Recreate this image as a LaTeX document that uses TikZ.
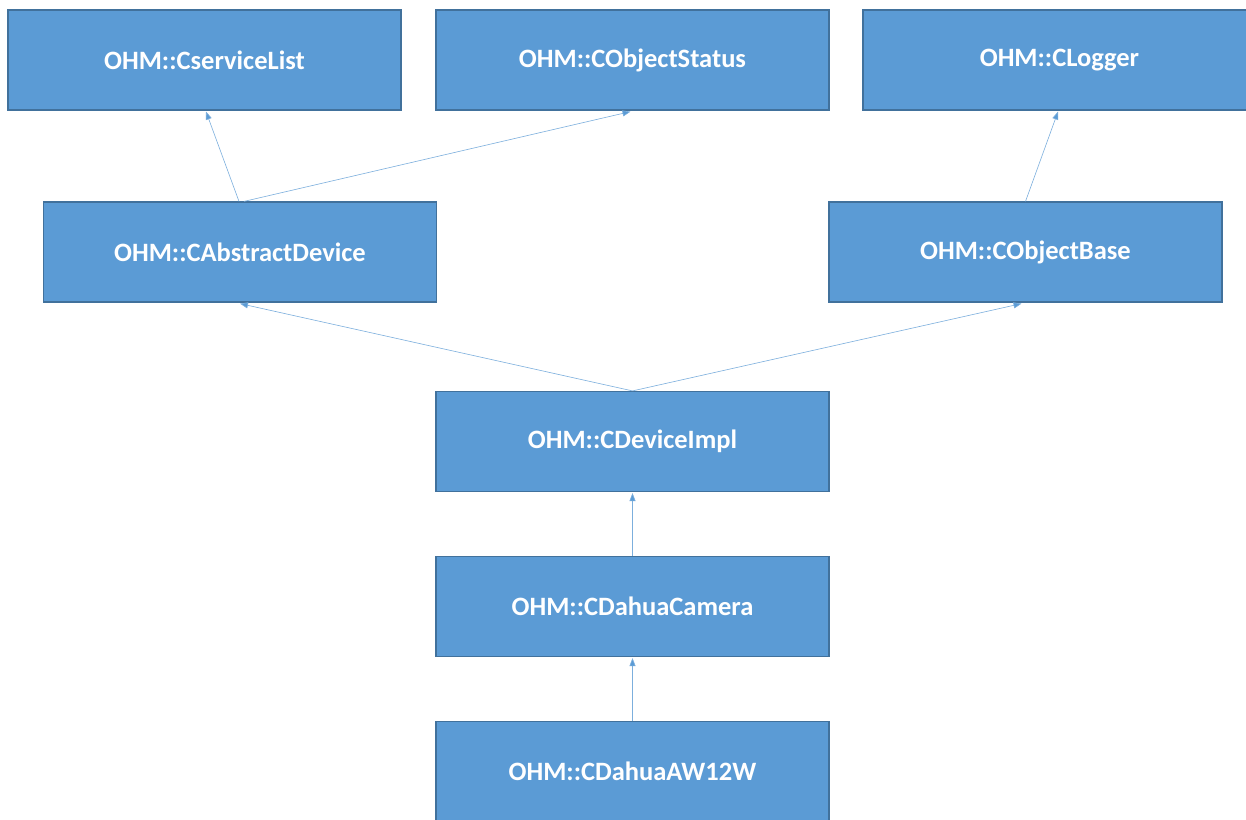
\documentclass[tikz,border=0pt]{standalone}
\usepackage{fontspec}
\setmainfont{Carlito}
\usetikzlibrary{arrows.meta}
\definecolor{boxfill}{HTML}{5B9BD5}
\definecolor{boxline}{HTML}{41719C}
\definecolor{arrline}{HTML}{5B9BD5}
\tikzset{
  cls/.style={draw=boxline, line width=1.2pt, fill=boxfill, minimum width=393pt, minimum height=100pt, inner sep=0pt, text=white, font=\fontsize{26.5}{30}\selectfont\bfseries},
  inh/.style={draw=arrline!80, line width=0.6pt, -{Triangle[length=8pt,width=6pt,fill=arrline]}}
}
\begin{document}
\begin{tikzpicture}[x=1pt,y=-1pt]
\useasboundingbox (0,0) rectangle (1246,819);
\clip (0,0) rectangle (1246,819);
\fill[white] (0,0) rectangle (1246,819);
\node[cls] (csl) at (204.5,60) {\raisebox{-2pt}{OHM::CserviceList}};
\node[cls] (cos) at (632.5,60) {\raisebox{-2pt}{OHM::CObjectStatus}};
\node[cls] (clg) at (1059.5,60) {\raisebox{-2pt}{OHM::CLogger}};
\node[cls] (cad) at (240,252) {\raisebox{-2pt}{OHM::CAbstractDevice}};
\node[cls] (cob) at (1025.5,252) {\raisebox{-2pt}{OHM::CObjectBase}};
\node[cls] (cdi) at (632.5,441.5) {\raisebox{-2pt}{OHM::CDeviceImpl}};
\node[cls] (cdc) at (632.5,606.5) {\raisebox{-2pt}{OHM::CDahuaCamera}};
\node[cls] (caw) at (632.5,771.5) {\raisebox{-2pt}{OHM::CDahuaAW12W}};
\draw[inh] ([xshift=-1pt]cad.north) -- ([xshift=1.5pt,yshift=-1pt]csl.south);
\draw[inh] ([xshift=4pt]cad.north) -- ([xshift=-2pt,yshift=-1pt]cos.south);
\draw[inh] (cob.north) -- ([xshift=-1.5pt,yshift=-1pt]clg.south);
\draw[inh] (cdi.north) -- ([yshift=-1pt]cad.south);
\draw[inh] (cdi.north) -- ([xshift=-4pt,yshift=-1pt]cob.south);
\draw[inh] (cdc.north) -- ([yshift=-1pt]cdi.south);
\draw[inh] (caw.north) -- ([yshift=-1pt]cdc.south);
\end{tikzpicture}
\end{document}
